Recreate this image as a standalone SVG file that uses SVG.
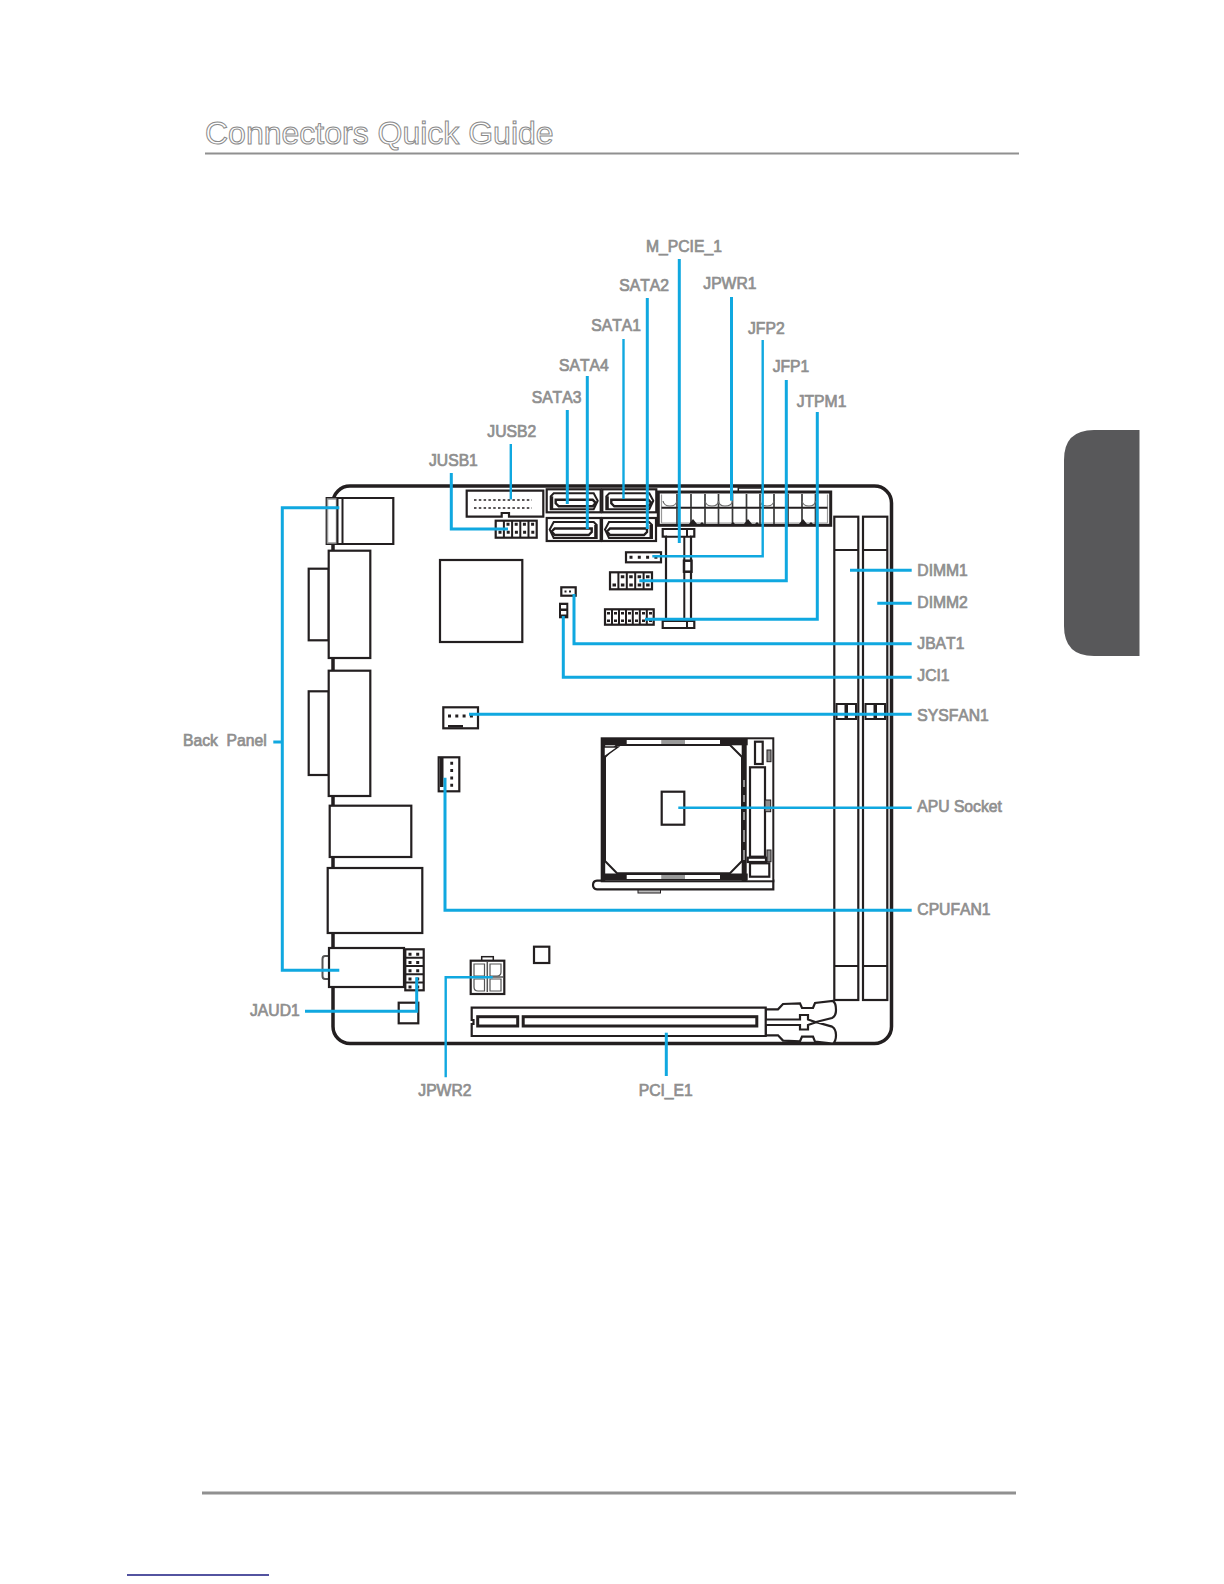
<svg xmlns="http://www.w3.org/2000/svg" width="1224" height="1584" viewBox="0 0 1224 1584">
<style>
.l{font:15.7px "Liberation Sans",Arial,sans-serif;font-kerning:none;fill:#8f8f8f;stroke:#8f8f8f;stroke-width:.7}
.t{font:32px "Liberation Sans",Arial,sans-serif;fill:#fff;stroke:#8a8a8a;stroke-width:1}
.b{fill:#fff;stroke:#231f20;stroke-width:2.2}
.n{fill:none;stroke:#231f20;stroke-width:2}
.k{fill:#231f20;stroke:none}
.g{fill:#8c8c8c;stroke:#231f20;stroke-width:1}
.d{fill:#fff;stroke:#231f20;stroke-width:2.4}
.c{fill:none;stroke:#10a8e0;stroke-width:3;stroke-linejoin:miter}
.f{fill:none;stroke:#10a8e0;stroke-width:2.4}
</style>
<defs>
<g id="sata">
<rect class="b" x="0" y="0" width="54" height="23"/>
<path class="n" d="M4 20V7L7 4H47L51 11.500L47 20Z"/>
<path class="k" d="M4 7H6.500V20H4Z"/>
<path class="d" d="M9 10.500H46L49 13.500L46 17H12L9 14Z"/>
</g>
</defs>
<rect width="1224" height="1584" fill="#fff"/>
<g id="page">
<text class="t" x="205" y="143.500">Connectors Quick Guide</text>
<line x1="205" y1="153.500" x2="1019" y2="153.500" stroke="#909090" stroke-width="2"/>
<path d="M1139.500 430V656H1094Q1064 656 1064 626V460Q1064 430 1094 430Z" fill="#58585a"/>
<line x1="202" y1="1493" x2="1016" y2="1493" stroke="#909090" stroke-width="3"/>
<line x1="127" y1="1575" x2="269" y2="1575" stroke="#1a1a80" stroke-width="1.500"/>
</g>
<g id="board">
<rect x="333" y="486" width="558.500" height="557.500" rx="17" fill="#fff" stroke="#231f20" stroke-width="3.500"/>
</g>
<g id="back-panel-parts">
<path class="b" d="M326.700 498H393.300V544H326.700Z"/>
<rect x="327.500" y="499" width="9" height="44" fill="#fff" stroke="#999" stroke-width="1.500"/>
<line class="n" x1="337.500" y1="498" x2="337.500" y2="544"/>
<line class="n" x1="342.500" y1="498" x2="342.500" y2="544"/>
<rect class="b" x="308.700" y="568.700" width="20" height="71.600"/>
<rect class="b" x="328.700" y="550.700" width="41.600" height="107.300"/>
<rect class="b" x="308.700" y="691.300" width="20" height="83.700"/>
<rect class="b" x="328.700" y="670.700" width="41.600" height="125.300"/>
<rect class="b" x="329.700" y="805.700" width="81.600" height="51.300"/>
<rect class="b" x="327.700" y="868" width="94.600" height="65"/>
<path d="M329 956H325Q322.500 956 322.500 959V976Q322.500 979 325 979H329" fill="#fff" stroke="#555" stroke-width="2"/>
<rect class="b" x="329" y="948" width="75" height="39"/>
</g>
<g id="jaud1">
<rect class="b" x="405.300" y="949.300" width="18.400" height="41"/>
<path class="n" d="M405.300 957.800H423.700M405.300 966H423.700M405.300 974.200H423.700M405.300 982.400H423.700"/>
<path d="M410 952.800V990M417.700 952.800V990" fill="none" stroke="#231f20" stroke-width="3" stroke-dasharray="3 5.200"/>
<rect class="b" x="398.700" y="1002.700" width="19.600" height="20.600"/>
</g>
<g id="jpwr2">
<rect x="481.700" y="956.700" width="11.600" height="5" fill="#fff" stroke="#231f20" stroke-width="1.500"/>
<rect class="b" x="470.700" y="960.700" width="33.600" height="33.300" stroke-width="2.500"/>
<path d="M474 964H484.500V976H474ZM490 964H501V972Q501 976 497 976H490ZM474 979H484.500V991H478Q474 991 474 987ZM490 979H501V991H490Z" fill="#fff" stroke="#555" stroke-width="1.200"/>
<path d="M487.300 962V992M472 977H503" fill="none" stroke="#555" stroke-width="1.500"/>
<rect class="b" x="534" y="946.700" width="15.300" height="16.300" stroke-width="2.500"/>
</g>
<g id="cpufan1">
<rect class="b" x="438.700" y="757.300" width="20.600" height="34"/>
<rect class="k" x="440" y="758" width="3.500" height="29"/>
<path d="M451.700 761.800V788" fill="none" stroke="#231f20" stroke-width="2.800" stroke-dasharray="3 4.300"/>
</g>
<g id="sysfan1">
<rect class="b" x="443.300" y="707.300" width="34.700" height="21"/>
<rect class="k" x="448" y="725" width="15" height="2.500"/>
<path d="M448 716H473" fill="none" stroke="#231f20" stroke-width="2.800" stroke-dasharray="3 4.300"/>
</g>
<g id="chip">
<rect class="b" x="440" y="560" width="82.300" height="82"/>
</g>
<g id="jusb2">
<path class="b" d="M466.700 490.700H543.300V516.700H509V513H501.700V516.700H466.700Z" stroke-width="2.500"/>
<path d="M474 500H532M474 508H532" fill="none" stroke="#231f20" stroke-width="1.500" stroke-dasharray="2.500 2.300"/>
</g>
<g id="jusb1">
<rect class="b" x="495.700" y="520.700" width="41" height="17" stroke-width="2.500"/>
<path class="n" d="M503.900 520.700V537.700M512.100 520.700V537.700M520.300 520.700V537.700M528.500 520.700V537.700"/>
<path d="M506.500 524.300H536M498.500 532.300H536" fill="none" stroke="#231f20" stroke-width="3" stroke-dasharray="3 5.200"/>
</g>
<use id="sata3" href="#sata" x="546.700" y="489.300"/>
<use id="sata1" href="#sata" x="602.300" y="489.300"/>
<use id="sata4" href="#sata" transform="translate(600.700 518) scale(-1 1)"/>
<use id="sata2" href="#sata" transform="translate(656 518) scale(-1 1)"/>
<g id="jpwr1">
<rect x="738.300" y="488" width="23.400" height="5" fill="#fff" stroke="#231f20" stroke-width="1.500"/>
<rect x="658.300" y="492" width="172.400" height="33.300" fill="#fff" stroke="#231f20" stroke-width="3"/>
<path d="M661.500 494.500V523M827.500 494.500V523M661.500 523H827.500" fill="none" stroke="#999" stroke-width="1.200"/>
<path class="n" d="M661.500 507.700H827.500"/>
<path d="M677 508V524M691 508V524M705 508V524M718.500 508V524M732.500 508V524M746.500 508V524M760 508V524M774 508V524M788 508V524M802 508V524M815.500 508V524M677 494V507M691 494V507M705 494V507M718.500 494V507M732.500 494V507M746.500 494V507M760 494V507M774 494V507M788 494V507M802 494V507M815.500 494V507" fill="none" stroke="#3a3a3a" stroke-width="1.700"/>
<path d="M663 501Q664 506 670 506M670 506Q676 506 677 501M705 501Q706 506 712 506Q718 506 718.500 501M718.500 501Q719 506 725 506Q732 506 732.500 501M760 501Q761 506 767 506Q773 506 774 501M802 501Q803 506 809 506Q815 506 815.500 501" fill="none" stroke="#666" stroke-width="1.200"/>
<path class="k" d="M689 524L693 519L697 524ZM744 524L748 519L752 524ZM799 524L803 519L807 524ZM700 524L702 522L704 524ZM731 524L733 522L735 524ZM755 524L757 522L759 524ZM809 524L811 522L813 524Z"/>
</g>
<g id="m_pcie_1">
<path class="b" d="M662.700 529H694.300V536.700H691V621H694.300V628H662.700V621H666V536.700H662.700Z"/>
<path class="n" d="M684.300 536.700V621M666 536.700H691M666 621H691M687 621V628M687 529V536.700" stroke-width="2.500"/>
<rect x="684" y="560.700" width="7.500" height="11" fill="#fff" stroke="#231f20" stroke-width="2.500"/>
</g>
<g id="jfp2">
<rect class="b" x="626" y="552.300" width="35" height="10" stroke-width="2.500"/>
<path d="M629.500 557.300H658" fill="none" stroke="#231f20" stroke-width="3" stroke-dasharray="3 5.300"/>
</g>
<g id="jfp1">
<rect class="b" x="610" y="572.300" width="42" height="17" stroke-width="2.500"/>
<path class="n" d="M618.400 572.300V589.300M626.800 572.300V589.300M635.200 572.300V589.300M643.600 572.300V589.300"/>
<path d="M620.800 576.700H652M612.500 585H652" fill="none" stroke="#231f20" stroke-width="3" stroke-dasharray="3.500 4.900"/>
</g>
<g id="jtpm1">
<rect class="b" x="605" y="609.300" width="48.700" height="15.400" stroke-width="2.500"/>
<path class="n" d="M612 609.300V624.700M619 609.300V624.700M626 609.300V624.700M632.800 609.300V624.700M639.800 609.300V624.700M646.800 609.300V624.700"/>
<path d="M607 613.300H653M607 620.700H653" fill="none" stroke="#231f20" stroke-width="2.500" stroke-dasharray="3 4"/>
</g>
<g id="jbat1">
<rect class="b" x="561.300" y="587.300" width="14.400" height="8.400"/>
<path d="M564.500 591.500H573" fill="none" stroke="#231f20" stroke-width="2" stroke-dasharray="2 2.500"/>
</g>
<g id="jci1">
<rect class="k" x="559" y="602.700" width="9.300" height="15.600"/>
<rect x="561" y="605" width="5.300" height="3.500" fill="#fff"/>
<rect x="561" y="611" width="5.300" height="3.500" fill="#fff"/>
</g>
<g id="dimm1">
<rect class="b" x="834.300" y="516.700" width="24" height="483.300"/>
<path class="n" d="M834.300 550H858.300M834.300 966H858.300"/>
<path class="n" d="M836.500 704H845.500V719H836.500ZM847 704H856V719H847Z" stroke-width="2.500"/>
</g>
<g id="dimm2">
<rect class="b" x="863" y="516.700" width="24.300" height="483.300"/>
<path class="n" d="M863 550H887.300M863 966H887.300"/>
<path class="n" d="M865.500 704H874.500V719H865.500ZM876 704H885V719H876Z" stroke-width="2.500"/>
</g>
<g id="apu-socket">
<path class="b" d="M597 880.700H773.300V889.300H597Q593 889 593 885Q593 881 597 880.700Z"/>
<rect x="638" y="890" width="22.500" height="3" fill="#bbb" stroke="#231f20" stroke-width="1"/>
<rect x="601.700" y="738.300" width="171.600" height="143" fill="#fff" stroke="#231f20" stroke-width="2"/>
<rect class="k" x="601.700" y="738.300" width="146" height="7"/>
<rect class="k" x="601.700" y="873.500" width="146" height="7"/>
<rect class="k" x="601.700" y="738.300" width="3.500" height="143"/>
<rect class="k" x="741.700" y="738.300" width="5" height="143"/>
<rect x="626.700" y="740" width="35" height="4" fill="#fff"/>
<rect x="685" y="740" width="35" height="4" fill="#fff"/>
<rect x="661.700" y="740" width="23.300" height="4" fill="#9a9a9a"/>
<rect x="626.700" y="875" width="35" height="4" fill="#fff"/>
<rect x="685" y="875" width="35" height="4" fill="#fff"/>
<rect x="661.700" y="875" width="23.300" height="4" fill="#9a9a9a"/>
<path d="M617 745H730L742 757V861L730 873.300H617L605 861V757Z" fill="#fff" stroke="#231f20" stroke-width="2"/>
<path d="M604 747H618L604 757Z" fill="#fff" stroke="#231f20" stroke-width="1.500"/>
<path d="M744 780V787M744 795V802M744 812V820M744 830V842M744 850V860" stroke="#fff" stroke-width="1" fill="none"/>
<rect class="b" x="755" y="741.700" width="7.700" height="22.300"/>
<rect class="g" x="767" y="750" width="4" height="11.700" fill="#777" stroke-width="1.500"/>
<rect class="b" x="750" y="767.300" width="15" height="89.400"/>
<rect class="g" x="765" y="800" width="5.700" height="11.700" stroke-width="1.500"/>
<rect class="g" x="767" y="850" width="4" height="11.700" stroke-width="1.500"/>
<rect class="b" x="747.700" y="857.700" width="18.300" height="4.300" stroke-width="1.500"/>
<rect class="b" x="750" y="863.300" width="19.300" height="13.400"/>
<rect class="b" x="661.700" y="791.700" width="22.600" height="33"/>
</g>
<g id="pci_e1">
<path class="b" d="M765.700 1009.300H778L783 1004L800 1003.300L802 1008H813L815 1003L833 1001Q836 1003 836 1010Q836 1016 832 1018L816 1022L832 1026.600Q836 1029 836 1035Q836 1041 833 1043.600L815 1041.600L813 1036.600H802L800 1041.300L783 1040.600L778 1035.300H765.700Z" stroke-width="2"/>
<path class="b" d="M762 1019.500H800V1015H808V1019.500L816 1022.300L808 1025V1029.500H800V1025H762Z" stroke-width="1.800"/>
<path class="b" d="M471.700 1007.700H765.700V1036H471.700V1024H473.500V1020H471.700Z" stroke-width="2.500"/>
<rect x="477.700" y="1016.700" width="40" height="9.300" fill="#fff" stroke="#231f20" stroke-width="3"/>
<rect x="523.200" y="1016.700" width="233.600" height="9.300" fill="#fff" stroke="#231f20" stroke-width="3"/>
</g>
<g id="connectors">
<path class="c" d="M679.300 259V543"/>
<path class="c" d="M647.300 298V529"/>
<path class="f" d="M623.500 339V499"/>
<path class="c" d="M587.300 376V529"/>
<path class="c" d="M567.300 410V504"/>
<path class="f" d="M510.800 444V499.500"/>
<path class="c" d="M451.300 473V529H508"/>
<path class="c" d="M731.500 297V500.700"/>
<path class="f" d="M762.700 340V556.300H652.300"/>
<path class="c" d="M786.300 380V580.700H639.300"/>
<path class="c" d="M817.300 412V619.300H645"/>
<path class="c" d="M850 570.300H911.700"/>
<path class="c" d="M877.300 603.300H911.700"/>
<path class="c" d="M574 594V643.700H911.700"/>
<path class="c" d="M563.300 616V677.300H911.700"/>
<path class="c" d="M469 714.300H911.700"/>
<path class="f" d="M678.300 807.700H911.700"/>
<path class="c" d="M445 777.700V910.300H911.700"/>
<path class="c" d="M339.300 507.700H282.300V970.300H339.300"/>
<path class="c" d="M273.300 742H282.300"/>
<path class="c" d="M305 1011.300H416.700V977.300"/>
<path class="f" d="M445.700 1077.300V977.300H492.700"/>
<path class="c" d="M666.300 1032.700V1076"/>
</g>
<g id="labels">
<text class="l" x="646" y="251.700">M_PCIE_1</text>
<text class="l" x="619.300" y="291">SATA2</text>
<text class="l" x="591.300" y="330.700">SATA1</text>
<text class="l" x="559" y="371.300">SATA4</text>
<text class="l" x="531.700" y="403.300">SATA3</text>
<text class="l" x="487.300" y="436.700">JUSB2</text>
<text class="l" x="429" y="466.300">JUSB1</text>
<text class="l" x="703.300" y="289">JPWR1</text>
<text class="l" x="748" y="334">JFP2</text>
<text class="l" x="772.700" y="372.300">JFP1</text>
<text class="l" x="796.700" y="407.300">JTPM1</text>
<text class="l" x="917.300" y="575.700">DIMM1</text>
<text class="l" x="917.300" y="607.700">DIMM2</text>
<text class="l" x="917.300" y="649">JBAT1</text>
<text class="l" x="917.300" y="681.300">JCI1</text>
<text class="l" x="917.300" y="720.700">SYSFAN1</text>
<text class="l" x="917.300" y="812.300">APU Socket</text>
<text class="l" x="917.300" y="915">CPUFAN1</text>
<text class="l" x="183" y="745.500" xml:space="preserve">Back  Panel</text>
<text class="l" x="250" y="1016">JAUD1</text>
<text class="l" x="418.300" y="1095.700">JPWR2</text>
<text class="l" x="638.700" y="1095.700">PCI_E1</text>
</g>
</svg>
